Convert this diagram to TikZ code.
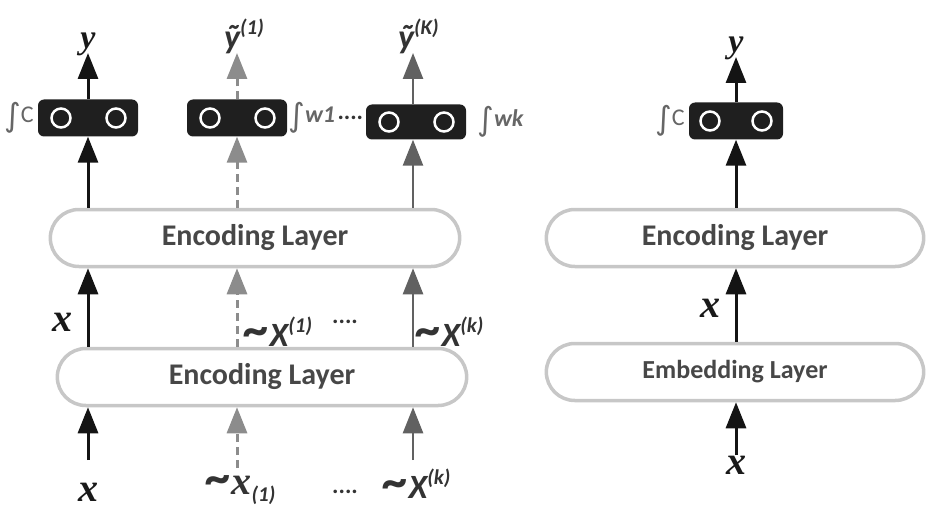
\documentclass[tikz,border=0pt]{standalone}
\usepackage{fontspec}
\setmainfont{Carlito}
\setsansfont{Carlito}
\newfontfamily\serifbi{Liberation Serif}[BoldItalicFont={* Bold Italic}]
\newfontfamily\symfont{DejaVu Sans}
\usetikzlibrary{shapes.misc,arrows.meta,positioning}

\tikzset{
    layer/.style={rounded rectangle, draw=black!22, line width=3.5pt, minimum width=#1,
        minimum height=57pt, text=black!72, font=\bfseries\fontsize{30}{30}\selectfont},
    unit/.style={fill=black!88, rounded corners=6pt, minimum width=#1, minimum height=37pt, inner sep=0pt},
    ring/.style={circle, draw=white, line width=2.5pt, minimum size=19pt, inner sep=0pt},
    tip/.style={-{Triangle[width=20pt,length=26pt]}},
    main/.style={tip, line width=3pt, draw=black!92},
    noisy/.style={tip, line width=3pt, draw=black!45, dash pattern=on 8pt off 5pt},
    other/.style={tip, line width=2.5pt, draw=black!62},
    xlab/.style={font=\serifbi\bfseries\itshape\fontsize{40}{40}\selectfont, text=black!90},
    ylab/.style={font=\serifbi\bfseries\itshape\fontsize{34}{34}\selectfont, text=black!90},
    nlab/.style={font=\bfseries\itshape\fontsize{34}{34}\selectfont, text=black!80, inner sep=0pt},
    fun/.style={font=\fontsize{24}{24}\selectfont, text=black!60, inner sep=1pt},
    gap/.style={font=\bfseries\fontsize{24}{24}\selectfont, text=black!80, inner sep=1pt},
}
\newcommand{\supidx}[1]{\raisebox{14pt}{\fontsize{21}{21}\selectfont(#1)}}
\newcommand{\integ}{\raisebox{-4pt}{\symfont\fontsize{32}{32}\selectfont ∫}}
\newcommand{\wave}{\scalebox{1.5}{\textasciitilde}}

\begin{document}
\begin{tikzpicture}[x=1pt,y=-1pt]
\useasboundingbox (0,0) rectangle (928,513);

% left: training with noisy copies
\node[layer=416] (enc2) at (262,377) {Encoding Layer};
\node[layer=416] (enc1) at (255,238) {Encoding Layer};
\node[unit=100] (u1) at (88,118) {};
\node[unit=100] (u2) at (237,118) {};
\node[unit=100, minimum height=35pt] (u3) at (416,122) {};
\foreach \u in {u1,u2,u3} {
    \node[ring] at ([xshift=-27pt]\u.center) {};
    \node[ring] at ([xshift=28pt]\u.center) {};
}

\coordinate (s1) at (88,460);
\coordinate (s2) at (237,468);
\coordinate (s3) at (413,460);
\coordinate (t1) at (88,53);
\coordinate (t2) at (237,53);
\coordinate (t3) at (413,53);

\draw[main] (s1) -- (s1 |- enc2.south);
\draw[main] (s1 |- enc2.north) -- (s1 |- enc1.south);
\draw[main] (s1 |- enc1.north) -- (u1);
\draw[main] (u1) -- (t1);

\draw[noisy] (s2) -- (s2 |- enc2.south);
\draw[noisy] (s2 |- enc2.north) -- (s2 |- enc1.south);
\draw[noisy] (s2 |- enc1.north) -- (u2);
\draw[noisy] (u2) -- (t2);

\draw[other] (s3) -- (s3 |- enc2.south);
\draw[other] (s3 |- enc2.north) -- (s3 |- enc1.south);
\draw[other] (s3 |- enc1.north) -- (s3 |- u3.south);
\draw[other] (s3 |- u3.north) -- (t3);

\node[ylab, above=-6pt of t1] (y1) {y};
\node[nlab, anchor=south west] (y2) at (224,54) {ỹ\supidx{1}};
\node[nlab, anchor=south west] (y3) at (398,54) {ỹ\supidx{K}};

\node[fun, left=3pt of u1] (f1) {\integ C};
\node[fun, right=0pt of u2] (f2) {\integ\textbf{\textit{w1}}};
\node[gap, right=0pt of f2] (d1) {....};
\node[fun, right=10pt of u3] (f3) {\integ\textbf{\textit{wk}}};

\node[xlab] (x1) at (62,322) {x};
\node[nlab, anchor=west] (n1) at (244,332) {\wave X\supidx{1}};
\node[gap] (d2) at (345,322) {....};
\node[nlab, anchor=west] (n2) at (416,332) {\wave X\supidx{k}};

\node[xlab] (x2) at (88,492) {x};
\node[nlab, anchor=west] (n3) at (206,490) {\wave{\serifbi\bfseries\itshape\fontsize{40}{40}\selectfont x}\raisebox{-7pt}{\fontsize{21}{21}\selectfont(1)}};
\node[gap] (d3) at (345,492) {....};
\node[nlab, anchor=west] (n4) at (383,484) {\wave X\supidx{k}};

% right: plain model
\node[layer=384, font=\bfseries\fontsize{26}{26}\selectfont] (emb) at (735,372) {Embedding Layer};
\node[layer=384] (encr) at (735,238) {Encoding Layer};
\node[unit=94] (ur) at (736,121) {};
\node[ring] at ([xshift=-26pt]ur.center) {};
\node[ring] at ([xshift=26pt]ur.center) {};
\coordinate (sr) at (736,455);
\coordinate (tr) at (736,57);

\draw[main] (sr) -- (sr |- emb.south);
\draw[main] (sr |- emb.north) -- (sr |- encr.south);
\draw[main] (sr |- encr.north) -- (ur);
\draw[main] (ur) -- (tr);

\node[ylab, above=-6pt of tr] (yr) {y};
\node[fun, left=3pt of ur] (fr) {\integ C};
\node[xlab] (xr) at (710,308) {x};
\node[xlab, below=-2pt of sr] (xr2) {x};
\end{tikzpicture}
\end{document}
